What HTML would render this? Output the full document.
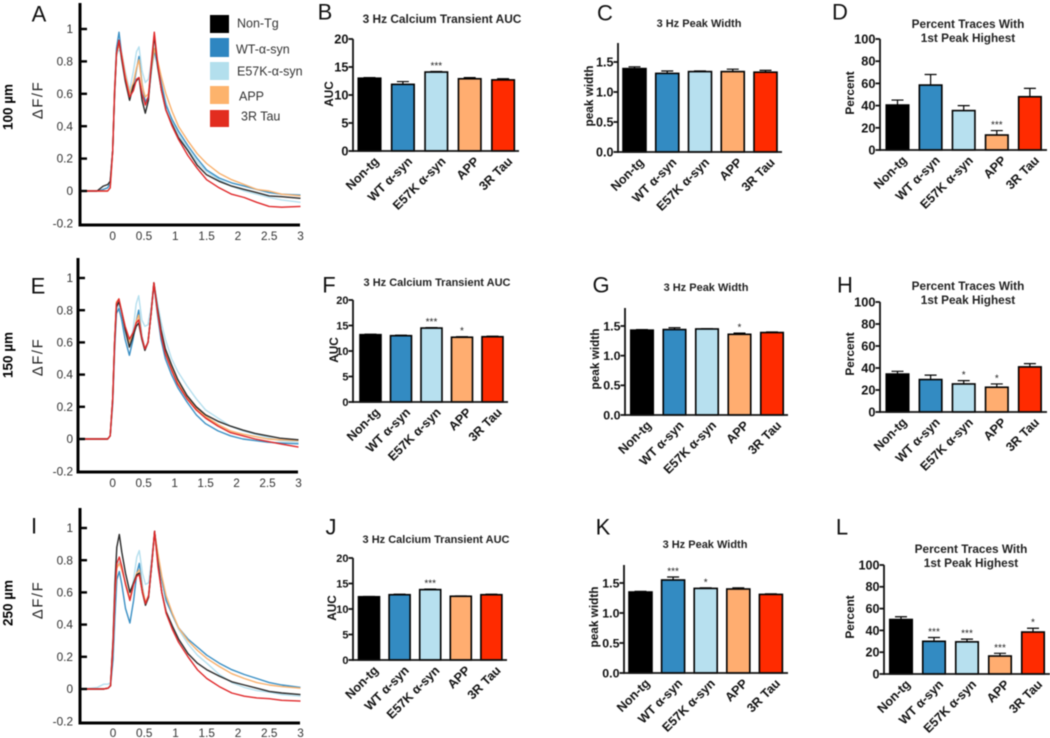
<!DOCTYPE html>
<html lang="en">
<head>
<meta charset="utf-8">
<title>Calcium transient panels</title>
<style>
html,body{margin:0;padding:0;background:#fff;width:1050px;height:738px;overflow:hidden}
#figure{display:block;filter:blur(0.55px)}
text{font-family:"Liberation Sans","DejaVu Sans",sans-serif}
</style>
</head>
<body>
<svg id="figure" xmlns="http://www.w3.org/2000/svg" width="1050" height="738" viewBox="0 0 1050 738"></svg>
<script>
/* ---------- shared data ---------- */
const traceTimes = [-0.48,-0.25,-0.15,-0.08,-0.04,0,0.03,0.06,0.1,0.14,0.2,0.27,0.33,0.38,0.42,0.47,0.52,0.57,0.62,0.665,0.72,0.78,0.85,0.95,1.05,1.2,1.35,1.5,1.7,1.9,2.1,2.3,2.5,2.7,3];
const traceNames = ['E57K-α-syn','WT-α-syn','APP','Non-Tg','3R Tau'];
const lineTickValues = [-0.2,0,0.2,0.4,0.6,0.8,1];
const lineTickLabels = ['-0.2','0','0.2','0.4','0.6','0.8','1'];
const timeTickValues = [0,0.5,1,1.5,2,2.5,3];
const timeTickLabels = ['0','0.5','1','1.5','2','2.5','3'];

/* panel A (100 um) */
const traceA_NonTg = [0,0,.03,.04,.06,.25,.6,.85,.93,.82,.68,.56,.65,.68,.70,.56,.48,.56,.78,.96,.76,.62,.5,.41,.33,.25,.16,.10,.06,.03,.01,-.01,-.03,-.035,-.045];
const traceA_WT = [0,0,.01,.02,.05,.25,.62,.88,.98,.85,.7,.6,.64,.75,.83,.66,.55,.58,.75,.87,.78,.66,.53,.44,.37,.28,.2,.13,.08,.05,.03,.01,-.01,-.02,-.025];
const traceA_E57K = [0,0,.01,.02,.04,.25,.6,.84,.87,.86,.74,.62,.74,.86,.89,.74,.67,.69,.8,.85,.76,.66,.55,.43,.35,.26,.18,.12,.07,.03,0,-.02,-.04,-.055,-.07];
const traceA_APP = [0,0,0,0,.02,.25,.62,.85,.9,.85,.72,.6,.67,.76,.81,.65,.58,.6,.76,.88,.8,.7,.6,.49,.4,.31,.23,.17,.11,.07,.04,.01,0,-.02,-.03];
const traceA_Tau = [0,0,0,0,.02,.25,.62,.85,.93,.84,.7,.58,.62,.69,.70,.6,.53,.58,.8,.98,.78,.62,.5,.4,.32,.22,.14,.07,.02,-.02,-.04,-.07,-.095,-.1,-.095];

/* panel E (150 um) */
const traceE_NonTg = [0,0,0,0,.02,.25,.6,.82,.85,.8,.68,.57,.64,.70,.72,.62,.55,.6,.78,.97,.82,.68,.56,.46,.37,.27,.2,.15,.11,.08,.055,.035,.02,.005,-.005];
const traceE_WT = [0,0,0,0,.02,.22,.55,.78,.81,.75,.62,.52,.62,.73,.80,.64,.56,.6,.78,.96,.78,.62,.5,.4,.32,.23,.15,.095,.05,.02,0,-.01,-.02,-.025,-.03];
const traceE_E57K = [0,0,0,0,.02,.25,.6,.8,.83,.78,.7,.58,.68,.84,.89,.74,.70,.71,.82,.97,.85,.73,.62,.5,.42,.33,.25,.18,.13,.08,.05,.03,.01,-.01,-.02];
const traceE_APP = [0,0,0,0,.02,.25,.6,.85,.87,.8,.7,.6,.65,.73,.77,.63,.56,.6,.78,.97,.8,.66,.54,.44,.35,.26,.19,.14,.09,.05,.03,.015,0,-.005,-.01];
const traceE_Tau = [0,0,0,0,.02,.25,.6,.84,.87,.8,.7,.62,.66,.72,.74,.63,.56,.6,.78,.97,.8,.65,.53,.43,.34,.25,.18,.13,.08,.04,.02,0,-.015,-.03,-.05];

/* panel I (250 um) */
const traceI_NonTg = [0,0,0,.005,.02,.3,.65,.88,.96,.85,.72,.6,.66,.71,.72,.6,.52,.57,.78,.98,.78,.6,.48,.39,.31,.22,.16,.12,.08,.045,.025,.005,-.015,-.025,-.035];
const traceI_WT = [0,0,0,.005,.02,.18,.45,.68,.73,.65,.5,.41,.55,.72,.78,.63,.53,.58,.78,.97,.82,.68,.55,.46,.38,.31,.26,.21,.16,.12,.09,.065,.04,.025,.01];
const traceI_E57K = [0,.01,.03,.03,.04,.28,.6,.76,.79,.74,.66,.56,.68,.82,.86,.72,.65,.66,.82,.97,.82,.68,.56,.46,.37,.28,.21,.16,.09,.04,.01,-.01,-.02,-.035,-.045];
const traceI_APP = [0,0,0,.005,.02,.26,.58,.75,.78,.74,.66,.56,.66,.72,.74,.62,.54,.58,.78,.97,.84,.7,.58,.47,.38,.3,.24,.19,.14,.095,.065,.04,.025,.015,.005];
const traceI_Tau = [0,0,0,.005,.02,.28,.6,.78,.82,.76,.65,.55,.65,.7,.71,.6,.53,.58,.78,.98,.76,.6,.47,.37,.29,.2,.12,.065,.015,-.025,-.045,-.055,-.06,-.07,-.075];

/* bar chart data */
const barCategories = ['Non-tg','WT α-syn','E57K α-syn','APP','3R Tau'];
const aucTicks = [0,5,10,15,20];
const aucTickLabels = ['0','5','10','15','20'];
const widthTicks = [0,0.5,1,1.5];
const widthTickLabels = ['0.0','0.5','1.0','1.5'];
const percentTicks = [0,20,40,60,80,100];
const percentTickLabels = ['0','20','40','60','80','100'];

const valuesB = [13,11.9,14.1,12.9,12.7];
const errorsB = [0.1,0.5,0.1,0.2,0.2];
const starsB = ['','','***','',''];
const valuesC = [1.39,1.31,1.34,1.34,1.33];
const errorsC = [0.03,0.04,0.01,0.04,0.03];
const starsC = ['','','','',''];
const valuesD = [40.5,58.5,35.5,13.5,48];
const errorsD = [4.5,9.5,4.5,4,7.5];
const starsD = ['','','','***',''];

const valuesF = [13.2,13,14.5,12.7,12.8];
const errorsF = [0.1,0.1,0.1,0.1,0.1];
const starsF = ['','','***','*',''];
const valuesG = [1.43,1.44,1.45,1.36,1.39];
const errorsG = [0.01,0.03,0.005,0.02,0.01];
const starsG = ['','','','*',''];
const valuesH = [34.5,29.5,25.5,22.5,41];
const errorsH = [2.5,4,3,3,3];
const starsH = ['','','*','*',''];

const valuesJ = [12.4,12.8,13.8,12.5,12.8];
const errorsJ = [0.05,0.1,0.1,0.05,0.1];
const starsJ = ['','','***','',''];
const valuesK = [1.35,1.55,1.41,1.40,1.31];
const errorsK = [0.01,0.05,0.01,0.02,0.01];
const starsK = ['','***','*','',''];
const valuesL = [50,30,29.5,16.5,38.5];
const errorsL = [2.5,3.5,2.5,2.5,3.5];
const starsL = ['','***','***','***','*'];

/* ---------- layout and style (separate from data) ---------- */
const traceColors = ['#b5dfee','#3a8fc4','#f9b06c','#2a2a2a','#e0282a'];
const barColors = ['#000000','#338bc2','#b7e0ef','#ffad70','#ff2b00'];
const legendColors = ['#000000','#2e86c1','#b3dfed','#fdb36c','#e22d1f'];

const linePanels = [
  {id:'a',series:[traceA_E57K,traceA_WT,traceA_APP,traceA_NonTg,traceA_Tau],axisX:80,axisTop:3,axisBottom:225,xEnd:300,y1:29,y0:191,x0:112.7,x3:300.5,labelY:236,depth:'100 µm',depthY:107,dfY:100},
  {id:'e',series:[traceE_E57K,traceE_WT,traceE_APP,traceE_NonTg,traceE_Tau],axisX:78,axisTop:258,axisBottom:472,xEnd:298,y1:278,y0:439,x0:112.7,x3:298.5,labelY:483,depth:'150 µm',depthY:355,dfY:357},
  {id:'i',series:[traceI_E57K,traceI_WT,traceI_APP,traceI_NonTg,traceI_Tau],axisX:80,axisTop:508,axisBottom:723,xEnd:300,y1:528,y0:689,x0:113,x3:300.5,labelY:733,depth:'250 µm',depthY:603,dfY:600}
];

const barPanels = [
  {id:'b',values:valuesB,errors:errorsB,stars:starsB,ticks:aucTicks,labels:aucTickLabels,max:20,axisX:353,axisTop:39,topY:39,zero:151,xEnd:519,first:369.5,step:33.4,w:22.5,title:['3 Hz Calcium Transient AUC'],tx:442,ty:[23],ts:11.9,yLabel:'AUC',lx:329,ly:94,tickSize:12.8},
  {id:'c',values:valuesC,errors:errorsC,stars:starsC,ticks:widthTicks,labels:widthTickLabels,max:1.5,axisX:618,axisTop:43,topY:62,zero:152,xEnd:782,first:634.5,step:32.75,w:23,title:['3 Hz Peak Width'],tx:699,ty:[27],ts:11,yLabel:'peak width',lx:589,ly:96,tickSize:12.6},
  {id:'d',values:valuesD,errors:errorsD,stars:starsD,ticks:percentTicks,labels:percentTickLabels,max:100,axisX:880,axisTop:39,topY:39,zero:150,xEnd:1047,first:897.5,step:33.1,w:22.5,title:['Percent Traces With','1st Peak Highest'],tx:968,ty:[28,42],ts:11.8,yLabel:'Percent',lx:850,ly:93,tickSize:12.8},
  {id:'f',values:valuesF,errors:errorsF,stars:starsF,ticks:aucTicks,labels:aucTickLabels,max:20,axisX:353,axisTop:300,topY:300,zero:402,xEnd:508,first:370.5,step:30.5,w:21,title:['3 Hz Calcium Transient AUC'],tx:437,ty:[286],ts:11,yLabel:'AUC',lx:334,ly:350,tickSize:11},
  {id:'g',values:valuesG,errors:errorsG,stars:starsG,ticks:widthTicks,labels:widthTickLabels,max:1.5,axisX:625,axisTop:308,topY:326,zero:415,xEnd:788,first:642,step:32.5,w:22.5,title:['3 Hz Peak Width'],tx:706,ty:[291],ts:11,yLabel:'peak width',lx:595,ly:359,tickSize:12.4},
  {id:'h',values:valuesH,errors:errorsH,stars:starsH,ticks:percentTicks,labels:percentTickLabels,max:100,axisX:880,axisTop:302,topY:302,zero:412,xEnd:1047,first:897.5,step:33.1,w:22.5,title:['Percent Traces With','1st Peak Highest'],tx:968,ty:[290,304],ts:11.8,yLabel:'Percent',lx:850,ly:354,tickSize:12.8},
  {id:'j',values:valuesJ,errors:errorsJ,stars:starsJ,ticks:aucTicks,labels:aucTickLabels,max:20,axisX:353,axisTop:558,topY:558,zero:660,xEnd:507,first:369,step:30.6,w:21,title:['3 Hz Calcium Transient AUC'],tx:436,ty:[543],ts:11,yLabel:'AUC',lx:332,ly:608,tickSize:11},
  {id:'k',values:valuesK,errors:errorsK,stars:starsK,ticks:widthTicks,labels:widthTickLabels,max:1.5,axisX:624,axisTop:565,topY:583,zero:673,xEnd:788,first:640.5,step:32.6,w:23,title:['3 Hz Peak Width'],tx:705,ty:[548],ts:11,yLabel:'peak width',lx:594,ly:617,tickSize:12.4},
  {id:'l',values:valuesL,errors:errorsL,stars:starsL,ticks:percentTicks,labels:percentTickLabels,max:100,axisX:884,axisTop:565,topY:565,zero:674,xEnd:1050,first:901,step:33,w:22.5,title:['Percent Traces With','1st Peak Highest'],tx:971,ty:[553,567],ts:11.8,yLabel:'Percent',lx:850,ly:617,tickSize:12.6}
];

const panelLetters = [['A',39,14],['B',325,12],['C',605,13],['D',840,12],['E',38,286],['F',329,285],['G',601,285],['H',845,285],['I',34,526],['J',331,527],['K',603,527],['L',842,527]];

const legendRows = [
  {label:'Non-Tg',y:15,h:18,tx:237,ty:23},
  {label:'WT-α-syn',y:38,h:19,tx:236,ty:49},
  {label:'E57K-α-syn',y:62,h:18,tx:237,ty:71},
  {label:'APP',y:86,h:18,tx:239,ty:96},
  {label:'3R Tau',y:110,h:17,tx:241,ty:116}
];

/* ---------- helpers ---------- */
const SVGNS = 'http://www.w3.org/2000/svg';
const root = document.getElementById('figure');

function make(tag, attrs, parent) {
  const el = document.createElementNS(SVGNS, tag);
  for (const k in attrs) el.setAttribute(k, attrs[k]);
  (parent || root).appendChild(el);
  return el;
}
function makeText(str, x, y, size, opts, parent) {
  const o = opts || {};
  const a = {x:x, y:y, 'font-size':size, fill:o.fill || '#111', 'text-anchor':o.anchor || 'middle', dy:o.dy === undefined ? '.35em' : o.dy};
  if (o.bold) a['font-weight'] = 'bold';
  if (o.spacing) a['letter-spacing'] = o.spacing;
  if (o.rotate !== undefined) a.transform = 'rotate(' + o.rotate + ' ' + x + ' ' + y + ')';
  const el = make('text', a, parent);
  el.textContent = str;
  return el;
}
function slug(s) {
  return s.toLowerCase().replace(/[^a-z0-9]+/g, '-').replace(/^-|-$/g, '');
}

/* ---------- line panels ---------- */
function drawLinePanel(p) {
  const g = make('g', {});
  
  
  const xScale = function (t) { return p.x0 + (t / 3) * (p.x3 - p.x0); };
  const yScale = function (v) { return p.y0 - v * (p.y0 - p.y1); };

  p.series.forEach(function (values, s) {
    const pts = values.map(function (v, i) { return xScale(traceTimes[i]).toFixed(1) + ',' + yScale(v).toFixed(1); }).join(' ');
    const line = make('polyline', {points:pts, fill:'none', stroke:traceColors[s], 'stroke-width':1.4, 'stroke-linejoin':'round'}, g);
    
    
  });

  const yAxis = make('line', {x1:p.axisX, x2:p.axisX, y1:p.axisTop, y2:p.axisBottom + 1.5, stroke:'#000', 'stroke-width':3}, g);
  
  
  const xAxis = make('line', {x1:p.axisX - 1.5, x2:p.xEnd, y1:p.axisBottom, y2:p.axisBottom, stroke:'#000', 'stroke-width':3}, g);
  
  

  lineTickValues.forEach(function (v, i) {
    if (v >= 0) {
      const tick = make('line', {x1:p.axisX, x2:p.axisX + 7, y1:yScale(v), y2:yScale(v), stroke:'#000', 'stroke-width':2.4}, g);
      
      
    }
    const lab = makeText(lineTickLabels[i], 73, yScale(v), 11.8, {anchor:'end', fill:'#333'}, g);
    
    
  });
  timeTickValues.forEach(function (t, i) {
    const lab = makeText(timeTickLabels[i], xScale(t), p.labelY, 11.8, {fill:'#333'}, g);
    
    
  });

  const depth = makeText(p.depth, 8, p.depthY, 13.5, {bold:true, rotate:-90, fill:'#000'}, g);
  
  
  const df = makeText('ΔF/F', 37, p.dfY, 15, {rotate:-90, fill:'#222', spacing:'1.5px'}, g);
  
  
}
linePanels.forEach(drawLinePanel);

/* ---------- bar panels ---------- */
function drawBarPanel(p) {
  const g = make('g', {});
  
  
  const yScale = function (v) { return p.zero - (v / p.max) * (p.zero - p.topY); };
  const center = function (i) { return p.first + i * p.step; };

  p.values.forEach(function (v, i) {
    const cx = center(i);
    const top = yScale(v);
    const errTop = yScale(v + p.errors[i]);
    const err = make('path', {d:'M' + cx + ' ' + top + 'V' + errTop + 'M' + (cx - 6) + ' ' + errTop + 'H' + (cx + 6), stroke:'#000', 'stroke-width':1.2, fill:'none'}, g);
    
    
    const bar = make('rect', {x:cx - p.w / 2, y:top, width:p.w, height:p.zero - top, fill:barColors[i], stroke:'#000', 'stroke-width':1.6}, g);
    
    
    if (p.stars[i]) {
      const star = makeText(p.stars[i], cx, errTop - 2.5, 10, {dy:0, fill:'#222'}, g);
      
      
    }
    const cat = makeText(barCategories[i], cx + 7, p.zero + 8, 12.6, {bold:true, anchor:'end', rotate:-45, fill:'#111'}, g);
    
    
  });

  const yAxis = make('line', {x1:p.axisX, x2:p.axisX, y1:p.axisTop, y2:p.zero + 0.9, stroke:'#111', 'stroke-width':1.8}, g);
  
  
  const xAxis = make('line', {x1:p.axisX, x2:p.xEnd, y1:p.zero, y2:p.zero, stroke:'#111', 'stroke-width':1.8}, g);
  
  

  p.ticks.forEach(function (v, i) {
    const y = yScale(v);
    const tick = make('line', {x1:p.axisX - 4.5, x2:p.axisX, y1:y, y2:y, stroke:'#111', 'stroke-width':1.8}, g);
    
    
    const lab = makeText(p.labels[i], p.axisX - 4.5, y, p.tickSize, {bold:true, anchor:'end'}, g);
    
    
  });

  p.title.forEach(function (line, i) {
    const t = makeText(line, p.tx, p.ty[i] - 4, p.ts, {bold:true, fill:'#222'}, g);
    
    
  });

  const yt = makeText(p.yLabel, p.lx, p.ly, 11.8, {bold:true, rotate:-90, fill:'#111'}, g);
  
  
}
barPanels.forEach(drawBarPanel);

/* ---------- legend ---------- */
const legend = make('g', {});


legendRows.forEach(function (row, i) {
  const sw = make('rect', {x:210, y:row.y, width:19, height:row.h, fill:legendColors[i]}, legend);
  
  
  const t = makeText(row.label, row.tx, row.ty, 12.5, {anchor:'start', fill:'#333'}, legend);
  
  
});

/* ---------- panel letters ---------- */
panelLetters.forEach(function (item) {
  const t = makeText(item[0], item[1], item[2], 22, {fill:'#111'});
  
  
});
</script>
</body>
</html>
